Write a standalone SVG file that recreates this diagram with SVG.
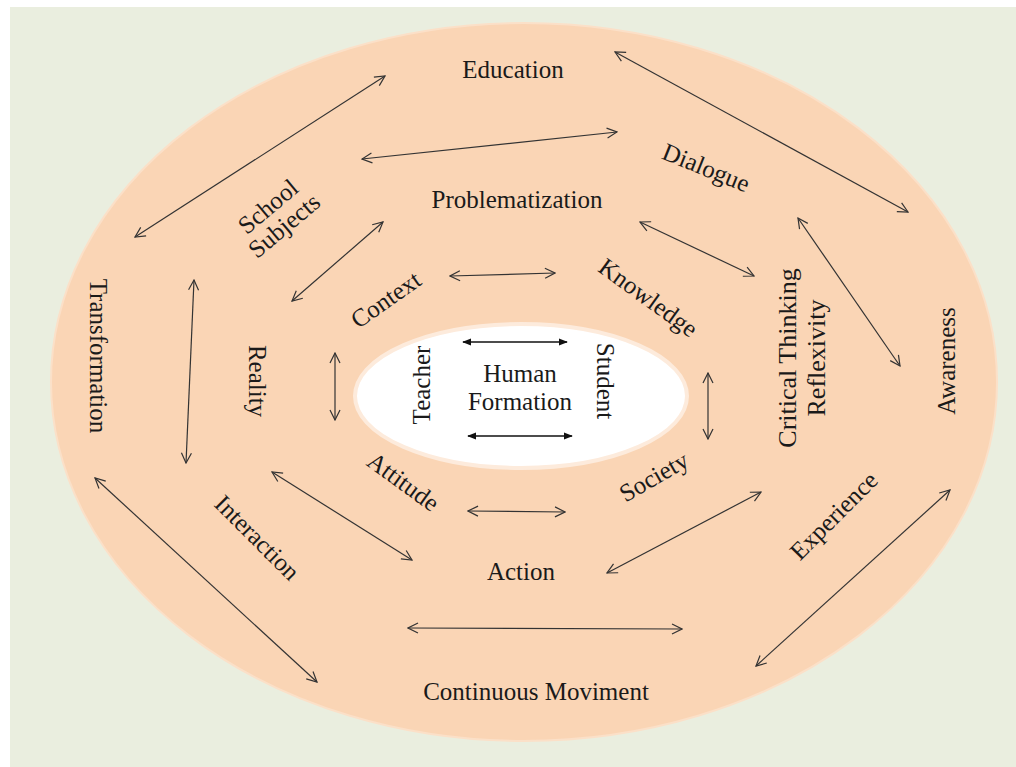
<svg xmlns="http://www.w3.org/2000/svg" width="1016" height="767" viewBox="0 0 1016 767">
<style>
text{font-family:"Liberation Serif","Times New Roman",serif;font-size:25px;fill:#1a1a1a;text-anchor:middle}
.c line{stroke:#333;stroke-width:1.2;fill:none;marker-start:url(#v);marker-end:url(#v)}
.i line{stroke:#111;stroke-width:1.6;marker-start:url(#f);marker-end:url(#f)}
</style>
<defs>
<marker id="v" viewBox="0 0 12 12" refX="11" refY="6" markerWidth="12" markerHeight="12" markerUnits="userSpaceOnUse" orient="auto-start-reverse">
<path d="M1,1 L11,6 L1,11" fill="none" stroke="#333" stroke-width="1.2"/>
</marker>
<marker id="f" viewBox="0 0 10 10" refX="9" refY="5" markerWidth="9" markerHeight="9" markerUnits="userSpaceOnUse" orient="auto-start-reverse">
<path d="M0,1 L10,5 L0,9 Z" fill="#111"/>
</marker>
</defs>
<rect x="0" y="0" width="1016" height="767" fill="#ffffff"/>
<rect x="10" y="7" width="1006" height="760" fill="#EAEEDF"/>
<ellipse id="outer" cx="524" cy="382" rx="473" ry="359" fill="#FAD5B5" stroke="#FBE0C8" stroke-width="2"/>
<ellipse id="inner" cx="521" cy="396" rx="166" ry="72" fill="#ffffff" stroke="#FDEBDC" stroke-width="4"/>

<g class="c" id="connectors">
<line x1="385" y1="76" x2="135" y2="237"/>
<line x1="615" y1="52" x2="908" y2="212"/>
<line x1="362" y1="159" x2="617" y2="132"/>
<line x1="383" y1="222" x2="292" y2="301"/>
<line x1="450" y1="276" x2="555" y2="273"/>
<line x1="640" y1="222" x2="754" y2="276"/>
<line x1="798" y1="218" x2="900" y2="366"/>
<line x1="194" y1="280" x2="186" y2="463"/>
<line x1="335" y1="353" x2="335" y2="420"/>
<line x1="708" y1="373" x2="708" y2="439"/>
<line x1="95" y1="478" x2="317" y2="682"/>
<line x1="272" y1="472" x2="412" y2="560"/>
<line x1="468" y1="511" x2="565" y2="512"/>
<line x1="761" y1="492" x2="607" y2="573"/>
<line x1="408" y1="628" x2="682" y2="629"/>
<line x1="950" y1="490" x2="756" y2="666"/>
</g>
<g class="i" id="inner-connectors">
<line x1="463" y1="342" x2="567" y2="342"/>
<line x1="468" y1="436" x2="572" y2="436"/>
</g>

<g id="education"><text x="513" y="78">Education</text></g>
<g id="dialogue" transform="translate(706,168) rotate(22)"><text x="0" y="8">Dialogue</text></g>
<g id="problematization"><text x="517" y="208">Problematization</text></g>
<g id="school-subjects" transform="translate(276,216) rotate(-40)"><text x="0" y="-4">School</text><text x="0" y="21">Subjects</text></g>
<g id="transformation" transform="translate(98,356) rotate(90)"><text x="0" y="8">Transformation</text></g>
<g id="reality" transform="translate(257,381) rotate(90)"><text x="0" y="8">Reality</text></g>
<g id="context" transform="translate(386,300) rotate(-35)"><text x="0" y="8">Context</text></g>
<g id="knowledge" transform="translate(648,298) rotate(36)"><text x="0" y="8">Knowledge</text></g>
<g id="critical" transform="translate(802,358) rotate(-90)"><text x="0" y="-6" style="font-size:26px">Critical Thinking</text><text x="0" y="23" style="font-size:26px">Reflexivity</text></g>
<g id="awareness" transform="translate(947,361) rotate(-90)"><text x="0" y="8">Awareness</text></g>
<g id="teacher" transform="translate(422,385) rotate(-90)"><text x="0" y="8">Teacher</text></g>
<g id="student" transform="translate(605,381) rotate(90)"><text x="0" y="8">Student</text></g>
<g id="human-formation"><text x="520" y="382">Human</text><text x="520" y="410">Formation</text></g>
<g id="attitude" transform="translate(403,482) rotate(36)"><text x="0" y="8">Attitude</text></g>
<g id="society" transform="translate(654,477) rotate(-30)"><text x="0" y="8">Society</text></g>
<g id="action"><text x="521" y="580">Action</text></g>
<g id="interaction" transform="translate(257,538) rotate(45)"><text x="0" y="8">Interaction</text></g>
<g id="experience" transform="translate(834,516) rotate(-45)"><text x="0" y="8">Experience</text></g>
<g id="continuous"><text x="536" y="700">Continuous Moviment</text></g>
</svg>
